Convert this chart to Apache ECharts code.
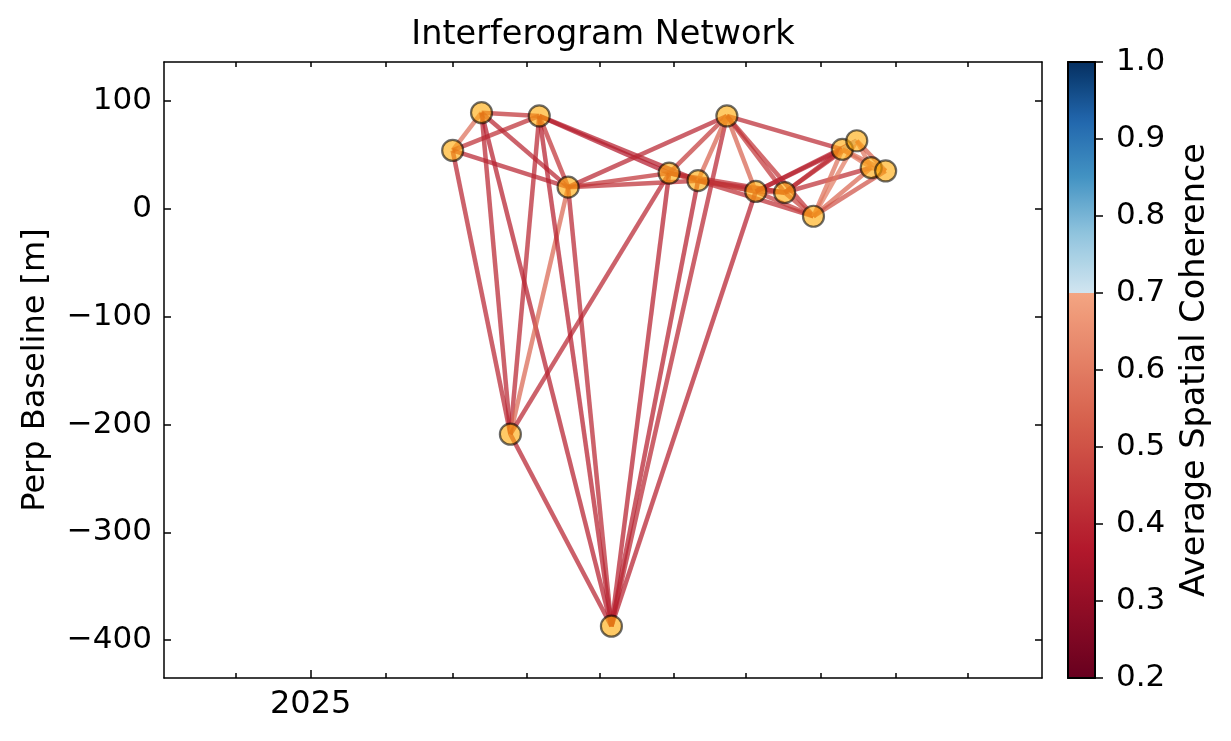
<!DOCTYPE html>
<html><head><meta charset="utf-8">
<script src="https://cdn.jsdelivr.net/npm/echarts@6/dist/echarts.min.js"></script>
<style>html,body{margin:0;padding:0;background:#fff}#c{width:1231px;height:741px}</style>
</head><body><div id="c"></div><script>
// ---- data ----
const acqDates = ['2025-03-01','2025-03-13','2025-03-25','2025-04-06','2025-04-18','2025-05-06','2025-05-30','2025-06-11','2025-06-23','2025-07-05','2025-07-17','2025-07-29','2025-08-10','2025-08-16','2025-08-22','2025-08-28'];
const perpBaseline = [54, 89, -209, 86, 20, -387, 33, 26, 86, 16, 15, -7, 55, 63, 38, 35];
const pairRef = [0,0,0,0, 1,1,1,1, 2,2,2,2, 3,3,3,3, 4,4,4,4, 5,5,5,5, 6,6,6,6, 7,7,7,7, 8,8,8,8, 9,9,9,9, 10,10,10,10, 11,11,11,11, 12,12,12, 13,13, 14];
const pairSec = [1,2,3,4, 2,3,4,5, 3,4,5,6, 4,5,6,7, 5,6,7,8, 6,7,8,9, 7,8,9,10, 8,9,10,11, 9,10,11,12, 10,11,12,13, 11,12,13,14, 12,13,14,15, 13,14,15, 14,15, 15];
const coherence = [0.57,0.40,0.42,0.40, 0.40,0.43,0.40,0.38, 0.40,0.55,0.39,0.40, 0.43,0.38,0.37,0.38, 0.40,0.43,0.42,0.40, 0.38,0.38,0.40,0.38, 0.47,0.45,0.44,0.42, 0.54,0.47,0.42,0.42, 0.54,0.44,0.43,0.41, 0.47,0.45,0.38,0.40, 0.47,0.40,0.42,0.42, 0.57,0.60,0.55,0.50, 0.71,0.59,0.57, 0.59,0.54, 0.57];
const yTicks = [-400, -300, -200, -100, 0, 100];
const monthTicks = ['2024-12-01','2025-01-01','2025-02-01','2025-03-01','2025-04-01','2025-05-01','2025-06-01','2025-07-01','2025-08-01','2025-09-01','2025-10-01'];
const yearTicks = ['2025-01-01'];
const cbarTicks = [0.2, 0.3, 0.4, 0.5, 0.6, 0.7, 0.8, 0.9, 1.0];

// ---- helpers ----
const ts = s => echarts.number.parseDate(s).getTime();
const RDBU = ['#67001f','#b2182b','#d6604d','#f4a582','#fddbc7','#f7f7f7','#d1e5f0','#92c5de','#4393c3','#2166ac','#053061'];
function hex2rgb(h){return [parseInt(h.slice(1,3),16),parseInt(h.slice(3,5),16),parseInt(h.slice(5,7),16)];}
function rdbu(t){
  t = Math.max(0, Math.min(1, t));
  const p = t*10, i = Math.min(9, Math.floor(p)), f = p - i;
  const a = hex2rgb(RDBU[i]), b = hex2rgb(RDBU[i+1]);
  const c = a.map((v,k)=>Math.round(v + (b[k]-v)*f));
  return 'rgb(' + c.join(',') + ')';
}
const CMIN = 0.2, CMAX = 1.0;
function cmap(v){
  if (v < 0.7) return rdbu((v-0.2)/0.5*0.3);
  return rdbu(0.6 + (v-0.7)/0.3*0.4);
}
const FONT = 'DejaVu Sans';
const xMin = ts('2024-11-01'), xMax = ts('2025-11-01');

const edges = pairRef.map((a,k)=>{
  const b = pairSec[k];
  return {coords: [[ts(acqDates[a]), perpBaseline[a]], [ts(acqDates[b]), perpBaseline[b]]],
          lineStyle: {color: cmap(coherence[k])}};
});
const nodes = acqDates.map((d,i)=>[ts(d), perpBaseline[i]]);

// colorbar gradient (bar spans CMIN..CMAX)
const off = v => (v - CMIN) / (CMAX - CMIN);
const stops = [];
for (let v = 0.2; v < 0.6999; v += 0.01) stops.push({offset: off(v), color: cmap(v)});
stops.push({offset: off(0.6999), color: cmap(0.6999)});
for (let v = 0.7; v <= 1.0001; v += 0.01) stops.push({offset: Math.min(1, off(v)), color: cmap(Math.min(v,1))});

const black = {color:'#000', width:1.5};
const option = {
  animation: false,
  backgroundColor: '#fff',
  title: {text: 'Interferogram Network', left: 598, top: 13, textAlign: 'center',
    textStyle: {fontFamily: FONT, fontSize: 33.5, fontWeight: 'normal', color: '#000'}},
  grid: [
    {left: 164, top: 62, width: 878, height: 616},
    {left: 1068, top: 62, width: 27, height: 616}
  ],
  xAxis: [
    {type:'value', gridIndex:0, min:xMin, max:xMax, position:'bottom',
     axisLine:{show:true, onZero:false, lineStyle:black}, splitLine:{show:false},
     axisTick:{show:true, inside:true, length:5, lineStyle:black, customValues: monthTicks.map(ts)},
     axisLabel:{show:true, customValues: yearTicks.map(ts), formatter: v => String(new Date(v).getFullYear()), margin: 11,
       fontFamily: FONT, fontSize: 32, color:'#000'}},
    {type:'value', gridIndex:0, min:xMin, max:xMax, position:'bottom',
     axisLine:{show:false, onZero:false}, splitLine:{show:false},
     axisTick:{show:true, inside:true, length:8, lineStyle:black, customValues: yearTicks.map(ts)},
     axisLabel:{show:false}},
    {type:'value', gridIndex:0, min:xMin, max:xMax, position:'top',
     axisLine:{show:true, onZero:false, lineStyle:black}, splitLine:{show:false},
     axisTick:{show:true, inside:true, length:5, lineStyle:black, customValues: monthTicks.map(ts)},
     axisLabel:{show:false}},
    {type:'category', gridIndex:1, data:['c'], position:'bottom', z:10,
     axisLine:{show:true, onZero:false, lineStyle:{color:'#000', width:2}}, axisTick:{show:false}, axisLabel:{show:false}},
    {type:'category', gridIndex:1, data:['c'], position:'top', z:10,
     axisLine:{show:true, onZero:false, lineStyle:{color:'#000', width:2}}, axisTick:{show:false}, axisLabel:{show:false}}
  ],
  yAxis: [
    {type:'value', gridIndex:0, min:-435, max:136, position:'left',
     name:'Perp Baseline [m]', nameLocation:'middle', nameGap:112, nameRotate:90,
     nameTextStyle:{fontFamily: FONT, fontSize: 32, color:'#000'},
     axisLine:{show:true, onZero:false, lineStyle:black}, splitLine:{show:false},
     axisTick:{show:true, inside:true, length:7, lineStyle:black, customValues: yTicks},
     axisLabel:{show:true, customValues: yTicks, margin: 12, fontFamily: FONT, fontSize: 31, color:'#000',
       formatter: v => (v < 0 ? '\u2212' + Math.abs(v) : String(v))}},
    {type:'value', gridIndex:0, min:-435, max:136, position:'right',
     axisLine:{show:true, onZero:false, lineStyle:black}, splitLine:{show:false},
     axisTick:{show:true, inside:true, length:7, lineStyle:black, customValues: yTicks},
     axisLabel:{show:false}},
    {type:'value', gridIndex:1, min:CMIN, max:CMAX, position:'right', z:10,
     name:'Average Spatial Coherence', nameLocation:'middle', nameGap:83, nameRotate:90,
     nameTextStyle:{fontFamily: FONT, fontSize: 33.5, color:'#000'},
     axisLine:{show:true, onZero:false, lineStyle:{color:'#000', width:2}}, splitLine:{show:false},
     axisTick:{show:true, inside:false, length:8, lineStyle:black, customValues: cbarTicks},
     axisLabel:{show:true, customValues: cbarTicks, margin: 21, fontFamily: FONT, fontSize: 31, color:'#000',
       formatter: v => Number(v).toFixed(1)}},
    {type:'value', gridIndex:1, min:CMIN, max:CMAX, position:'left', z:10,
     axisLine:{show:true, onZero:false, lineStyle:{color:'#000', width:2}}, splitLine:{show:false},
     axisTick:{show:false}, axisLabel:{show:false}}
  ],
  series: [
    {type:'lines', coordinateSystem:'cartesian2d', xAxisIndex:0, yAxisIndex:0, z:2,
     lineStyle:{width:4.5, opacity:0.72}, data: edges, silent:true},
    {type:'scatter', xAxisIndex:0, yAxisIndex:0, z:3, symbol:'circle', symbolSize:21,
     itemStyle:{color:'rgba(255,170,10,0.78)', borderColor:'rgba(0,0,0,0.72)', borderWidth:2.2},
     data: nodes, silent:true},
    {type:'bar', xAxisIndex:3, yAxisIndex:2, barWidth:'100%', z:2, silent:true,
     itemStyle:{color:{type:'linear', x:0, y:1, x2:0, y2:0, colorStops: stops}},
     data:[CMAX]}
  ]
};
const chart = echarts.init(document.getElementById('c'), null, {renderer:'canvas'});
chart.setOption(option);
</script></body></html>
